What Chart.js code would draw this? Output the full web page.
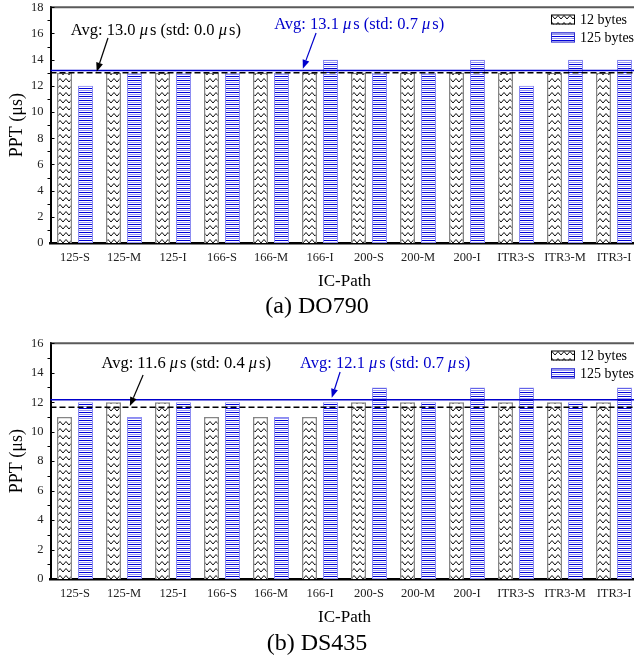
<!DOCTYPE html>
<html><head><meta charset="utf-8">
<script src="https://cdn.jsdelivr.net/npm/chart.js@4.4.0/dist/chart.umd.min.js"></script>
<style>
html,body{margin:0;padding:0;width:634px;height:667px;overflow:hidden;background:#fff;}
.wrap{position:absolute;left:0;}
canvas{display:block;}
.cap{position:absolute;left:0;width:634px;text-align:center;font-family:"Liberation Serif",serif;font-size:24px;color:#000;line-height:28px;}
</style></head><body>
<div class="wrap" style="top:0px"><canvas id="c1" width="660" height="296"></canvas></div>
<div class="cap" style="top:291px">(a) DO790</div>
<div class="wrap" style="top:336px"><canvas id="c2" width="660" height="296"></canvas></div>
<div class="cap" style="top:628px">(b) DS435</div>
<script>
// ---------- data ----------
const categories = ['125-S','125-M','125-I','166-S','166-M','166-I','200-S','200-M','200-I','ITR3-S','ITR3-M','ITR3-I'];
const seriesNames = ['12 bytes','125 bytes'];
const do790_12  = [13,13,13,13,13,13,13,13,13,13,13,13];
const do790_125 = [12,13,13,13,13,14,13,13,14,12,14,14];
const ds435_12  = [11,12,12,11,11,11,12,12,12,12,12,12];
const ds435_125 = [12,11,12,12,11,12,13,12,13,13,12,13];
const yMaxes = [18,16];
const yTickStep = 2;
const avg12Label  = [13.0, 11.6];
const std12Label  = [0.0, 0.4];
const avg125Label = [13.1, 12.1];
const std125Label = [0.7, 0.7];

// ---------- patterns ----------
function zigzagPattern(){
  const c=document.createElement('canvas'); c.width=6; c.height=7;
  const g=c.getContext('2d'); g.fillStyle='#fff'; g.fillRect(0,0,6,7);
  g.strokeStyle='#000'; g.lineWidth=0.95;
  g.beginPath(); g.moveTo(-3,5); g.lineTo(0,1.5); g.lineTo(3,5); g.lineTo(6,1.5); g.lineTo(9,5); g.stroke();
  return g.createPattern(c,'repeat');
}
function stripePattern(){
  const c=document.createElement('canvas'); c.width=4; c.height=4;
  const g=c.getContext('2d'); g.fillStyle='#fff'; g.fillRect(0,0,4,4);
  g.fillStyle='#0000d8'; g.fillRect(0,0,4,1);
  g.fillStyle='#9696f2'; g.fillRect(0,2,4,1);
  return g.createPattern(c,'repeat');
}
const zig = zigzagPattern();
const stripe = stripePattern();
const styles = [
  {fill:zig, border:'#858585', bw:1.5},
  {fill:stripe, border:'#8c8cf2', bw:1}
];

function mean(a){return a.reduce((s,v)=>s+v,0)/a.length;}

function avgParts(avg,std){
  return [[`Avg: ${avg.toFixed(1)} `,false],['\u03bc',true],[`s (std: ${std.toFixed(1)} `,false],['\u03bc',true],['s)',false]];
}
function drawParts(ctx, parts, cx, cy, size, color){
  const nf=`${size}px "Liberation Serif"`, itf=`italic ${size}px "Liberation Serif"`;
  let w=0; const ws=[];
  for(const [t,it] of parts){ ctx.font=it?itf:nf; const m=ctx.measureText(t).width+(it?2:0); ws.push(m); w+=m; }
  let x=cx-w/2; ctx.fillStyle=color; ctx.textBaseline='middle'; ctx.textAlign='left';
  parts.forEach(([t,it],i)=>{ ctx.font=it?itf:nf; ctx.fillText(t,x,cy); x+=ws[i]; });
}
function arrow(ctx,x1,y1,x2,y2,color){
  ctx.strokeStyle=color; ctx.fillStyle=color; ctx.lineWidth=1.2; ctx.setLineDash([]);
  const ang=Math.atan2(y2-y1,x2-x1), L=9, W=3.5;
  const bx=x2-L*Math.cos(ang), by=y2-L*Math.sin(ang);
  ctx.beginPath(); ctx.moveTo(x1,y1); ctx.lineTo(bx,by); ctx.stroke();
  ctx.beginPath(); ctx.moveTo(x2,y2);
  ctx.lineTo(bx+W*Math.sin(ang), by-W*Math.cos(ang));
  ctx.lineTo(bx-W*Math.sin(ang), by+W*Math.cos(ang)); ctx.closePath(); ctx.fill();
}

const deco = {
  id:'deco',
  afterDatasetsDraw(chart, args, o){
    const {ctx, chartArea:a, scales:{x,y}} = chart;
    ctx.save();
    // top frame
    ctx.strokeStyle='#5a5a5a'; ctx.lineWidth=2; ctx.beginPath(); ctx.moveTo(a.left,a.top); ctx.lineTo(a.right+5,a.top); ctx.stroke();
    // y ticks
    ctx.strokeStyle='#000'; ctx.lineWidth=1;
    for(let v=0; v<=o.yMax; v++){
      const py=Math.round(y.getPixelForValue(v))+0.5;
      ctx.beginPath();
      if(v%2===0){ if(v>0){ctx.moveTo(a.left,py); ctx.lineTo(a.left+4,py);} }
      else { ctx.moveTo(a.left-3,py); ctx.lineTo(a.left,py); }
      ctx.stroke();
    }
    // avg lines
    ctx.lineWidth=1.5;
    ctx.strokeStyle='#0000cc'; ctx.setLineDash([]);
    let py=y.getPixelForValue(o.line125);
    ctx.beginPath(); ctx.moveTo(a.left,py); ctx.lineTo(a.right,py); ctx.stroke();
    ctx.strokeStyle='#000'; ctx.setLineDash([6,3]);
    py=y.getPixelForValue(o.line12);
    ctx.beginPath(); ctx.moveTo(a.left,py); ctx.lineTo(a.right,py); ctx.stroke();
    ctx.setLineDash([]);
    // annotations
    for(const n of o.notes){
      drawParts(ctx, n.parts, x.getPixelForValue(n.tx), y.getPixelForValue(n.ty), 16.5, n.color);
      arrow(ctx, x.getPixelForValue(n.ax1), y.getPixelForValue(n.ay1), x.getPixelForValue(n.ax2), y.getPixelForValue(n.ay2), n.color);
    }
    // legend
    const lx=551, lw=24, lh=10, rows=[19.5,37.5];
    chart.data.datasets.forEach((ds,i)=>{
      const cy=rows[i];
      ctx.fillStyle=styles[i].fill; ctx.fillRect(lx,cy-lh/2,lw,lh);
      ctx.strokeStyle=i===0?'#000':'#3030d0'; ctx.lineWidth=1; ctx.strokeRect(lx+0.5,cy-lh/2+0.5,lw-1,lh-1);
      ctx.fillStyle='#000'; ctx.font='14px "Liberation Serif"'; ctx.textBaseline='middle'; ctx.textAlign='left';
      ctx.fillText(ds.label, lx+lw+5, cy+0.5);
    });
    ctx.restore();
  }
};

function noPad(s){ s.paddingTop=0; s.paddingBottom=0; s.paddingLeft=0; s.paddingRight=0; }

function makeChart(id, k, d12, d125, notePos){
  const yMax=yMaxes[k];
  const notes=[
    Object.assign({parts:avgParts(avg12Label[k],std12Label[k]), color:'#000'}, notePos[0]),
    Object.assign({parts:avgParts(avg125Label[k],std125Label[k]), color:'#0000cc'}, notePos[1])
  ];
  return new Chart(document.getElementById(id), {
    type:'bar',
    data:{labels:categories, datasets:[d12,d125].map((d,i)=>({
      label:seriesNames[i], data:d, backgroundColor:styles[i].fill, borderColor:styles[i].border,
      borderWidth:styles[i].bw, categoryPercentage:0.857, barPercentage:0.714
    }))},
    plugins:[deco],
    options:{
      responsive:false, animation:false, devicePixelRatio:1,
      layout:{padding:{left:0,top:7.3,right:21.5,bottom:0}},
      plugins:{legend:{display:false}, tooltip:{enabled:false},
        deco:{yMax, line12:mean(d12), line125:mean(d125), notes}},
      scales:{
        x:{grid:{display:false,drawTicks:false}, border:{display:true,color:'#000',width:2.5},
           ticks:{font:{family:'Liberation Serif',size:12.5}, color:'#222', padding:7, maxRotation:0, autoSkip:false},
           title:{display:true,text:'IC-Path',font:{family:'Liberation Serif',size:17}, color:'#000', padding:{top:0,bottom:4}},
           afterFit(s){s.height=53; noPad(s);}},
        y:{min:0,max:yMax, grid:{display:false,drawTicks:false}, border:{display:true,color:'#000',width:2},
           ticks:{stepSize:yTickStep, font:{family:'Liberation Serif',size:12.5}, color:'#222', padding:7},
           title:{display:true,text:'PPT (\u03bcs)',font:{family:'Liberation Serif',size:18}, color:'#000', padding:{top:6,bottom:0}},
           afterFit(s){s.width=50.5; noPad(s);}}
      }
    }
  });
}

makeChart('c1', 0, do790_12, do790_125, [
  {tx:1.65, ty:16.22, ax1:0.673, ay1:15.66, ax2:0.443, ay2:13.08},
  {tx:5.8, ty:16.65, ax1:4.92, ay1:16.04, ax2:4.65, ay2:13.3}
]);
makeChart('c2', 1, ds435_12, ds435_125, [
  {tx:2.27, ty:14.6, ax1:1.39, ay1:13.85, ax2:1.12, ay2:11.74},
  {tx:6.33, ty:14.6, ax1:5.41, ay1:14.05, ax2:5.24, ay2:12.3}
]);
</script>
</body></html>
